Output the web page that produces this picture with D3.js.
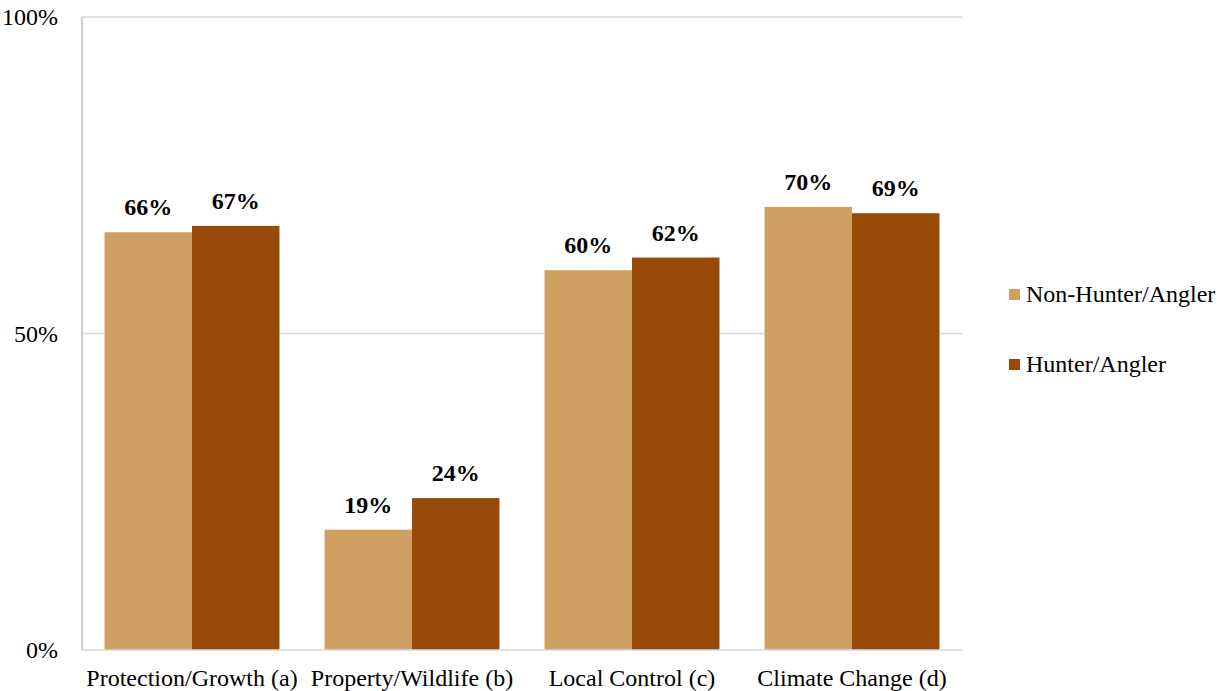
<!DOCTYPE html>
<meta charset="utf-8">
<title>Hunter/Angler comparison</title>
<style>

body {
  margin: 0;
  background: #fff;
}

text {
  font-family: "Liberation Serif", "Times New Roman", serif;
  fill: #000;
}

</style>
<body>
<script src="https://cdn.jsdelivr.net/npm/d3@7"></script>
<script>
var categories = ["Protection/Growth (a)", "Property/Wildlife (b)", "Local Control (c)", "Climate Change (d)"],
    seriesNames = ["Non-Hunter/Angler", "Hunter/Angler"],
    nonHunter = [66, 19, 60, 70],
    hunter = [67, 24, 62, 69],
    yTicks = [0, 50, 100],
    colors = ["#d0a062", "#994a08"];

var w = 1228,
    h = 691,
    mLeft = 82,
    mRight = 962,
    mTop = 17,
    mBottom = 650;

var svg = d3.select("body").append("svg")
    .attr("width", w)
    .attr("height", h);

var x = d3.scaleBand()
    .domain(categories)
    .range([mLeft, mRight])
    .paddingInner(0.205)
    .paddingOuter(0.1025);

var x1 = d3.scaleBand()
    .domain(seriesNames)
    .range([0, x.bandwidth()]);

var y = d3.scaleLinear()
    .domain([0, 100])
    .range([mBottom, mTop]);

// gridlines
svg.selectAll("line.grid")
    .data(yTicks.filter(function(d) { return d > 0; }))
  .enter().append("line")
    .attr("class", "grid")
    .attr("x1", mLeft)
    .attr("x2", mRight)
    .attr("y1", function(d) { return y(d); })
    .attr("y2", function(d) { return y(d); })
    .attr("stroke", "#d9d9d9")
    .attr("stroke-width", 1.5);

// y tick labels
svg.selectAll("text.ytick")
    .data(yTicks)
  .enter().append("text")
    .attr("class", "ytick")
    .attr("x", 58)
    .attr("y", function(d) { return y(d) + 8; })
    .attr("text-anchor", "end")
    .style("font-size", "24px")
    .text(function(d) { return d + "%"; });

var rows = categories.map(function(c, i) {
  return {cat: c, vals: [nonHunter[i], hunter[i]]};
});

var groups = svg.selectAll("g.group")
    .data(rows)
  .enter().append("g")
    .attr("class", "group")
    .attr("transform", function(d) { return "translate(" + x(d.cat) + ",0)"; });

groups.selectAll("rect")
    .data(function(d) { return d.vals.map(function(v, j) { return {s: seriesNames[j], v: v, j: j}; }); })
  .enter().append("rect")
    .attr("x", function(d) { return x1(d.s); })
    .attr("width", x1.bandwidth())
    .attr("y", function(d) { return y(d.v); })
    .attr("height", function(d) { return mBottom - y(d.v); })
    .attr("fill", function(d) { return colors[d.j]; });

groups.selectAll("text.val")
    .data(function(d) { return d.vals.map(function(v, j) { return {s: seriesNames[j], v: v}; }); })
  .enter().append("text")
    .attr("class", "val")
    .attr("x", function(d) { return x1(d.s) + x1.bandwidth() / 2; })
    .attr("y", function(d) { return y(d.v) - 17; })
    .attr("text-anchor", "middle")
    .style("font-size", "24px")
    .style("font-weight", "bold")
    .text(function(d) { return d.v + "%"; });

// axis lines
svg.append("line")
    .attr("x1", mLeft).attr("x2", mLeft)
    .attr("y1", mTop).attr("y2", mBottom)
    .attr("stroke", "#bfbfbf")
    .attr("stroke-width", 1.5);

svg.append("line")
    .attr("x1", mLeft).attr("x2", mRight)
    .attr("y1", mBottom).attr("y2", mBottom)
    .attr("stroke", "#d9d9d9")
    .attr("stroke-width", 1.5);

// category labels
svg.selectAll("text.cat")
    .data(categories)
  .enter().append("text")
    .attr("class", "cat")
    .attr("x", function(d) { return x(d) + x.bandwidth() / 2; })
    .attr("y", 686)
    .attr("text-anchor", "middle")
    .style("font-size", "24px")
    .text(function(d) { return d; });

// legend
var legend = svg.selectAll("g.legend")
    .data(seriesNames)
  .enter().append("g")
    .attr("class", "legend")
    .attr("transform", function(d, i) { return "translate(1009," + (289 + i * 70) + ")"; });

legend.append("rect")
    .attr("width", 11)
    .attr("height", 11)
    .attr("fill", function(d, i) { return colors[i]; });

legend.append("text")
    .attr("x", 17)
    .attr("y", 13)
    .style("font-size", "24px")
    .text(function(d) { return d; });
</script>
